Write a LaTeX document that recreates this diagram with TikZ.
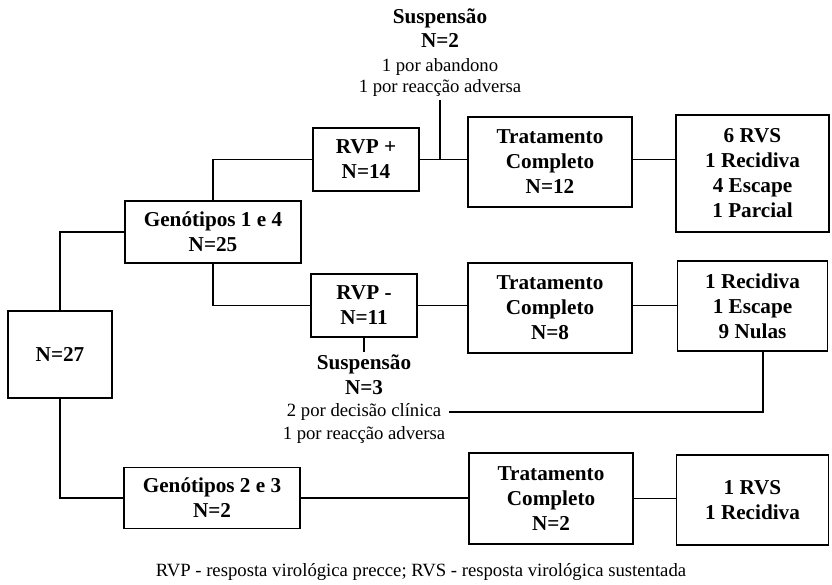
\documentclass[tikz,border=0pt]{standalone}
\usepackage{fontspec}
\setmainfont{Liberation Serif}
\usetikzlibrary{positioning}

\tikzset{
  caixa/.style={draw, line width=1.2pt, align=center, inner sep=0pt,
    font=\fontsize{21.2}{25}\selectfont\bfseries},
  nota/.style={align=center, inner sep=3pt, font=\fontsize{18.7}{21.5}\selectfont},
  liga/.style={line width=1.2pt},
}
\newcommand{\negr}[1]{{\fontsize{21.2}{25}\selectfont\bfseries #1}}

\begin{document}
\begin{tikzpicture}[x=1pt,y=-1pt]
            \useasboundingbox (0,0) rectangle (832,584);

            % Boxes
            \node[caixa, minimum width=104pt, minimum height=87pt] (n27) at (60,354.5) {N=27};
            \node[caixa, minimum width=176pt, minimum height=62pt] (g14) at (213,232) {Genótipos 1 e 4\\N=25};
            \node[caixa, minimum width=176pt, minimum height=61pt] (g23) at (212,498) {Genótipos 2 e 3\\N=2};

            \node[caixa, minimum width=106pt, minimum height=63pt] (rvpp) at (366,159.5) {RVP +\\N=14};
            \node[caixa, minimum width=106pt, minimum height=63pt] (rvpm) at (364,305.5) {RVP -\\N=11};

            \node[caixa, minimum width=164pt, minimum height=90pt] (t12) at (550,162) {Tratamento\\Completo\\N=12};
            \node[caixa, minimum width=164pt, minimum height=90pt] (t8) at (550,308) {Tratamento\\Completo\\N=8};
            \node[caixa, minimum width=164pt, minimum height=91pt] (t2) at (551,498.5) {Tratamento\\Completo\\N=2};

            \node[caixa, minimum width=153pt, minimum height=117pt] (r1) at (752.5,173.5) {6 RVS\\1 Recidiva\\4 Escape\\1 Parcial};
            \node[caixa, minimum width=150pt, minimum height=90pt] (r2) at (752.5,306) {1 Recidiva\\1 Escape\\9 Nulas};
            \node[caixa, minimum width=152pt, minimum height=90pt] (r3) at (752.5,500) {1 RVS\\1 Recidiva};

            % Suspensions
            \node[nota, anchor=south] (s1) at (440,100) {\negr{Suspensão}\\[2.5pt]\negr{N=2}\\[2.5pt]1 por abandono\\1 por reacção adversa};
            \node[nota, anchor=north] (s2) at ([yshift=-14pt]rvpm.south) {\negr{Suspensão}\\[3pt]\negr{N=3}\\[1pt]2 por decisão clínica\\[1pt]1 por reacção adversa};
            \coordinate (c1) at (449,412);

            % Connectors
            \draw[liga] (n27.north) |- (g14.west);
            \draw[liga] (n27.south) |- (g23.west);
            \draw[liga] (g14.north) |- (rvpp.west);
            \draw[liga] (g14.south) |- (rvpm.west);
            \draw[liga] (rvpp.east) -- (rvpp.east -| t12.west);
            \draw[liga] (s1.south) -- (s1.south |- rvpp.east);
            \draw[liga] (t12.east |- rvpp.east) -- (rvpp.east -| r1.west);
            \draw[liga] (rvpm.east) -- (rvpm.east -| t8.west);
            \draw[liga] (t8.east |- rvpm.east) -- (rvpm.east -| r2.west);
            \draw[liga] (rvpm.south) -- (s2.north);
            \draw[liga] (c1) -| ([xshift=10.5pt]r2.south);
            \draw[liga] (g23.east) -- (g23.east -| t2.west);
            \draw[liga] (t2.east) -- (t2.east -| r3.west);

            % Legend
            \node[nota] (leg) at (421,572) {RVP - resposta virológica precce; RVS - resposta virológica sustentada};
\end{tikzpicture}
\end{document}
